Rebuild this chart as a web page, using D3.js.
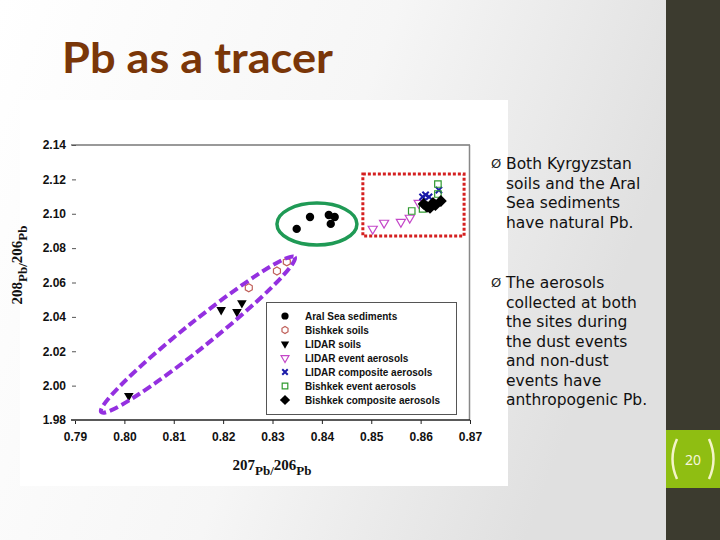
<!DOCTYPE html>
<html>
<head>
    <meta charset="utf-8">
    <script src="https://cdn.jsdelivr.net/npm/d3@7"></script>
    <style>
        body{
            margin: 0;
        }
        .tick text {
            font-family: "Liberation Sans", Arial, sans-serif;
            font-weight: bold;
            font-size: 12px;
            fill: #111;
        }
        .bullet {
            font-family: "DejaVu Sans", sans-serif;
            font-size: 15.5px;
            fill: #111;
        }
        .legend text {
            font-family: "Liberation Sans", Arial, sans-serif;
            font-weight: bold;
            font-size: 10px;
            fill: #111;
        }
    </style>
</head>
<body>
<div id="slide"></div>
<script>
    // ratios: x = 207Pb/206Pb, y = 208Pb/206Pb
    var aralSea = [[0.8376, 2.0981], [0.8349, 2.0912], [0.8414, 2.0993], [0.8426, 2.0981], [0.8418, 2.0941]];
    var bishkekSoils = [[0.8329, 2.0720], [0.8309, 2.0667], [0.8252, 2.0569]];
    var lidarSoils = [[0.8196, 2.0441], [0.8228, 2.0429], [0.8238, 2.0481], [0.8009, 1.9941]];
    var lidarEvent = [[0.8503, 2.0912], [0.8526, 2.0947], [0.8560, 2.0952], [0.8578, 2.0976], [0.8596, 2.1063]];
    var lidarComposite = [[0.8604, 2.1098], [0.8617, 2.1098], [0.8637, 2.1138], [0.8610, 2.1110]];
    var bishkekEvent = [[0.8635, 2.1173], [0.8635, 2.1115], [0.8582, 2.1016], [0.8604, 2.1028]];
    var bishkekComposite = [[0.8606, 2.1057], [0.8619, 2.1034], [0.8625, 2.1063], [0.8613, 2.1040], [0.8641, 2.1074], [0.8630, 2.1050]];

    var seriesNames = ["Aral Sea sediments", "Bishkek soils", "LIDAR soils", "LIDAR event aerosols",
        "LIDAR composite aerosols", "Bishkek event aerosols", "Bishkek composite aerosols"];
    var xTicks = [0.79, 0.80, 0.81, 0.82, 0.83, 0.84, 0.85, 0.86, 0.87];
    var yTicks = [1.98, 2.00, 2.02, 2.04, 2.06, 2.08, 2.10, 2.12, 2.14];

    var bullets = [
        ["Both Kyrgyzstan", "soils and the Aral", "Sea sediments", "have natural Pb."],
        ["The aerosols", "collected at both", "the sites during", "the dust events", "and non-dust", "events have", "anthropogenic Pb."]
    ];

    // custom symbols for the hexagon, the x and a square diamond
    var symbolHexagon = {
        draw: function (ctx, size) {
            var r = Math.sqrt(size / 2.6);
            for (var i = 0; i < 6; i++) {
                var a = Math.PI / 3 * i + Math.PI / 6;
                if (i === 0) ctx.moveTo(r * Math.cos(a), r * Math.sin(a));
                else ctx.lineTo(r * Math.cos(a), r * Math.sin(a));
            }
            ctx.closePath();
        }
    };
    var symbolX = {
        draw: function (ctx, size) {
            var r = Math.sqrt(size) / 2;
            ctx.moveTo(-r, -r); ctx.lineTo(r, r);
            ctx.moveTo(r, -r); ctx.lineTo(-r, r);
        }
    };
    var symbolRhomb = {
        draw: function (ctx, size) {
            var r = Math.sqrt(size / 2);
            ctx.moveTo(0, -r); ctx.lineTo(r, 0); ctx.lineTo(0, r); ctx.lineTo(-r, 0);
            ctx.closePath();
        }
    };

    var series = [
        {data: aralSea, type: d3.symbolCircle, size: 55, fill: "#000", stroke: "none", rot: 0},
        {data: bishkekSoils, type: symbolHexagon, size: 42, fill: "none", stroke: "#c0605a", rot: 0},
        {data: lidarSoils, type: d3.symbolTriangle, size: 40, fill: "#000", stroke: "none", rot: 180},
        {data: lidarEvent, type: d3.symbolTriangle, size: 36, fill: "none", stroke: "#c447c8", rot: 180},
        {data: lidarComposite, type: symbolX, size: 40, fill: "none", stroke: "#1a1aa8", rot: 0},
        {data: bishkekEvent, type: d3.symbolSquare, size: 42, fill: "none", stroke: "#2f9a2f", rot: 0},
        {data: bishkekComposite, type: symbolRhomb, size: 70, fill: "#000", stroke: "none", rot: 0}
    ];

    var svg = d3.select("#slide").append("svg")
        .attr("width", 720)
        .attr("height", 540);

    // slide background
    var defs = svg.append("defs");
    var grad = defs.append("linearGradient").attr("id", "bg").attr("x1", "0").attr("x2", "1").attr("y1", "0").attr("y2", "0.3");
    grad.append("stop").attr("offset", "0").attr("stop-color", "#ffffff");
    grad.append("stop").attr("offset", "0.55").attr("stop-color", "#f6f6f6");
    grad.append("stop").attr("offset", "1").attr("stop-color", "#e0e0e0");
    svg.append("rect").attr("width", 666).attr("height", 540).attr("fill", "url(#bg)");
    svg.append("rect").attr("x", 666).attr("width", 54).attr("height", 540).attr("fill", "#3c3b2f");

    // slide number box
    svg.append("rect").attr("x", 666).attr("y", 430).attr("width", 54).attr("height", 58).attr("fill", "#8fbe12");
    svg.append("path").attr("d", "M677,439 Q668,459 677,479").attr("fill", "none").attr("stroke", "#f4f4c8").attr("stroke-width", 2.5);
    svg.append("path").attr("d", "M709,439 Q718,459 709,479").attr("fill", "none").attr("stroke", "#f4f4c8").attr("stroke-width", 2.5);
    svg.append("text").attr("x", 693).attr("y", 465).attr("text-anchor", "middle")
        .style("font-family", "'Noto Sans', sans-serif").style("font-size", "14px").attr("fill", "#f6f6dc").text("20");

    // title
    svg.append("text").attr("x", 62).attr("y", 73)
        .attr("textLength", 271).attr("lengthAdjust", "spacingAndGlyphs")
        .style("font-family", "Lato, 'Open Sans', sans-serif").style("font-weight", "bold").style("font-size", "42px")
        .attr("fill", "#7a3608").text("Pb as a tracer");

    // chart picture panel
    svg.append("rect").attr("x", 20).attr("y", 100).attr("width", 488).attr("height", 386).attr("fill", "#fff");

    var x = d3.scaleLinear().domain([0.79, 0.87]).range([75, 470]);
    var y = d3.scaleLinear().domain([1.98, 2.14]).range([420, 145]);

    // frame: top and right
    svg.append("line").attr("x1", 71).attr("x2", x(0.87)).attr("y1", y(2.14)).attr("y2", y(2.14)).attr("stroke", "#777").attr("stroke-width", 1.5);
    svg.append("line").attr("x1", x(0.87) - 0.5).attr("x2", x(0.87) - 0.5).attr("y1", y(2.14)).attr("y2", y(1.98)).attr("stroke", "#888").attr("stroke-width", 1.5);
    svg.append("line").attr("x1", 71).attr("x2", x(0.87)).attr("y1", y(1.98)).attr("y2", y(1.98)).attr("stroke", "#222").attr("stroke-width", 1.5);

    // X Axis
    var gx = svg.append("g").attr("transform", "translate(0," + y(1.98) + ")")
        .call(d3.axisBottom(x).tickValues(xTicks).tickFormat(d3.format(".2f")).tickSize(4).tickPadding(8));
    gx.select(".domain").remove();
    gx.selectAll(".tick line").attr("stroke", "#222");

    // Y Axis
    var gy = svg.append("g").attr("transform", "translate(76,0)")
        .call(d3.axisLeft(y).tickValues(yTicks).tickFormat(d3.format(".2f")).tickSize(4).tickPadding(6));
    gy.select(".domain").remove();
    gy.selectAll(".tick line").attr("stroke", "#555");

    // axis titles
    var xt = svg.append("text").attr("x", 272).attr("y", 470).attr("text-anchor", "middle")
        .style("font-family", "'Liberation Serif', serif").style("font-weight", "bold").attr("fill", "#111");
    xt.append("tspan").style("font-size", "15px").text("207");
    xt.append("tspan").style("font-size", "13px").attr("dy", 5).text("Pb/");
    xt.append("tspan").style("font-size", "15px").attr("dy", -5).text("206");
    xt.append("tspan").style("font-size", "13px").attr("dy", 5).text("Pb");

    var yt = svg.append("text").attr("transform", "translate(22,265) rotate(-90)").attr("text-anchor", "middle")
        .style("font-family", "'Liberation Serif', serif").style("font-weight", "bold").attr("fill", "#111");
    yt.append("tspan").style("font-size", "15px").text("208");
    yt.append("tspan").style("font-size", "13px").attr("dy", 5).text("Pb/");
    yt.append("tspan").style("font-size", "15px").attr("dy", -5).text("206");
    yt.append("tspan").style("font-size", "13px").attr("dy", 5).text("Pb");

    // points
    series.forEach(function (s) {
        var sym = d3.symbol().type(s.type).size(s.size);
        svg.append("g").selectAll("path")
            .data(s.data)
            .enter()
            .append("path")
            .attr("d", sym)
            .attr("transform", function (d) {
                return "translate(" + x(d[0]) + "," + y(d[1]) + ") rotate(" + s.rot + ")";
            })
            .attr("fill", s.fill)
            .attr("stroke", s.stroke)
            .attr("stroke-width", s.type === symbolX ? 2 : 1.2);
    });

    // legend
    var legend = svg.append("g").attr("class", "legend");
    legend.append("rect").attr("x", 266.5).attr("y", 302.5).attr("width", 190).attr("height", 112)
        .attr("fill", "#fff").attr("stroke", "#555");
    series.forEach(function (s, i) {
        var ly = 316 + i * 14;
        legend.append("path").attr("d", d3.symbol().type(s.type).size(s.size * 0.75))
            .attr("transform", "translate(285," + ly + ") rotate(" + s.rot + ")")
            .attr("fill", s.fill).attr("stroke", s.stroke)
            .attr("stroke-width", s.type === symbolX ? 2 : 1.2);
        legend.append("text").attr("x", 305).attr("y", ly + 4).text(seriesNames[i]);
    });

    // hand drawn groupings
    svg.append("ellipse").attr("cx", x(0.8390)).attr("cy", y(2.0940)).attr("rx", 40).attr("ry", 21)
        .attr("fill", "none").attr("stroke", "#1f9a55").attr("stroke-width", 3.5);
    svg.append("rect").attr("x", x(0.8483)).attr("y", y(2.1231))
        .attr("width", x(0.8688) - x(0.8483)).attr("height", y(2.0871) - y(2.1231))
        .attr("fill", "none").attr("stroke", "#d42020").attr("stroke-width", 3).attr("stroke-dasharray", "3,2");
    svg.append("ellipse").attr("rx", 124).attr("ry", 13)
        .attr("transform", "translate(" + x(0.8149) + "," + y(2.0297) + ") rotate(-38.7)")
        .attr("fill", "none").attr("stroke", "#9430e0").attr("stroke-width", 4).attr("stroke-dasharray", "9,4");

    // bullets
    var starts = [169, 288];
    bullets.forEach(function (lines, b) {
        svg.append("text").attr("x", 491).attr("y", starts[b] - 1)
            .style("font-family", "'DejaVu Sans', sans-serif").style("font-size", "13px").attr("fill", "#222").text("Ø");
        lines.forEach(function (t, i) {
            svg.append("text").attr("class", "bullet").attr("x", 506).attr("y", starts[b] + i * 19.5).text(t);
        });
    });
</script>
</body>
</html>
